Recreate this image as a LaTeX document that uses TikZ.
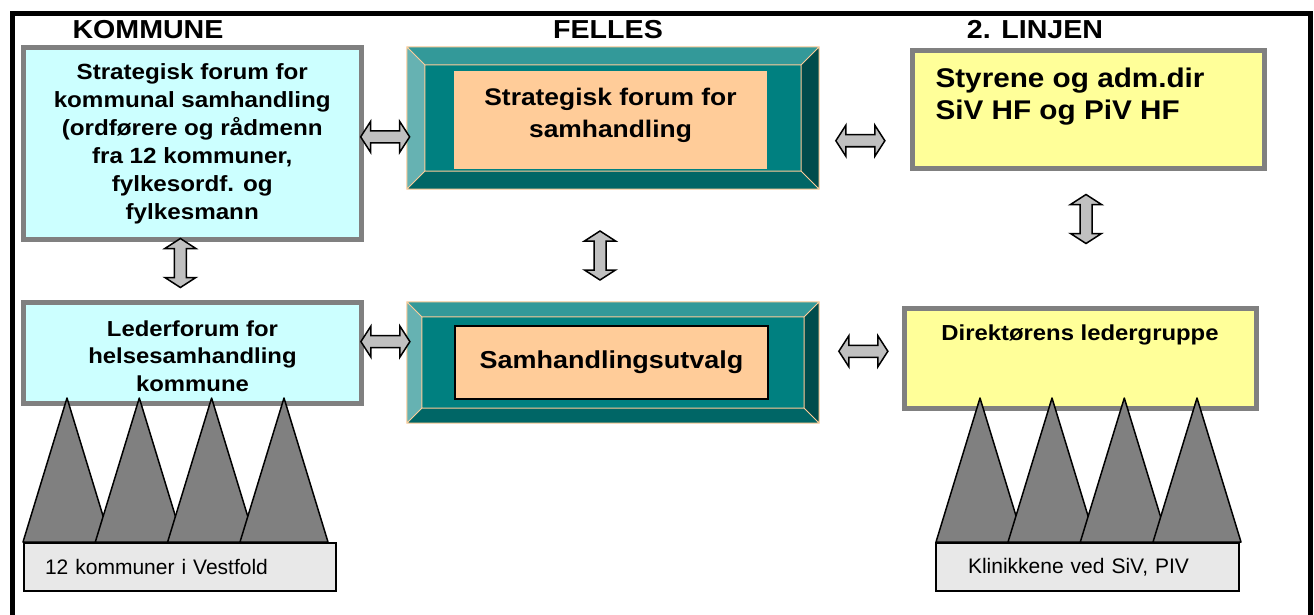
\documentclass[tikz,border=0pt]{standalone}
\usepackage{fontspec}
\setmainfont{Liberation Sans}[BoldFeatures={FakeStretch=1.1}]
\usetikzlibrary{positioning,calc}

\definecolor{boxgray}{HTML}{808080}
\definecolor{kcyan}{HTML}{CCFFFF}
\definecolor{lyellow}{HTML}{FFFF99}
\definecolor{peach}{HTML}{FFCC99}
\definecolor{teal0}{HTML}{008080}
\definecolor{bvtop}{HTML}{339999}
\definecolor{bvleft}{HTML}{66B2B2}
\definecolor{bvbot}{HTML}{006666}
\definecolor{bvright}{HTML}{004C4C}
\definecolor{agray}{HTML}{C0C0C0}
\definecolor{lgray}{HTML}{E8E8E8}

% bevelled frame round a node: #1 node, #2 inset
\newcommand{\bevel}[2]{%
  \fill[bvtop] (#1.north west) -- (#1.north east) -- ([xshift=-#2pt,yshift=-#2pt]#1.north east) -- ([xshift=#2pt,yshift=-#2pt]#1.north west) -- cycle;
  \fill[bvbot] (#1.south west) -- (#1.south east) -- ([xshift=-#2pt,yshift=#2pt]#1.south east) -- ([xshift=#2pt,yshift=#2pt]#1.south west) -- cycle;
  \fill[bvleft] (#1.north west) -- (#1.south west) -- ([xshift=#2pt,yshift=#2pt]#1.south west) -- ([xshift=#2pt,yshift=-#2pt]#1.north west) -- cycle;
  \fill[bvright] (#1.north east) -- (#1.south east) -- ([xshift=-#2pt,yshift=#2pt]#1.south east) -- ([xshift=-#2pt,yshift=-#2pt]#1.north east) -- cycle;
  \draw[peach,line width=1pt] (#1.north west) rectangle (#1.south east)
    ([xshift=#2pt,yshift=-#2pt]#1.north west) rectangle ([xshift=-#2pt,yshift=#2pt]#1.south east)
    (#1.north west) -- ++(#2,#2) (#1.north east) -- ++(-#2,#2)
    (#1.south west) -- ++(#2,-#2) (#1.south east) -- ++(-#2,-#2);
}

\tikzset{dbl/.pic={
  \draw[draw=black,line width=1.5pt,fill=agray,line join=miter]
    (-24.5,0) -- (-14.5,-15.5) -- (-14.5,-6) -- (14.5,-6) -- (14.5,-15.5) -- (24.5,0)
    -- (14.5,15.5) -- (14.5,6) -- (-14.5,6) -- (-14.5,15.5) -- cycle;}}

\begin{document}
\begin{tikzpicture}[x=1pt,y=-1pt,
  box/.style={draw=boxgray,line width=5pt,inner sep=0pt,align=center,
    font=\bfseries\fontsize{22}{28}\selectfont},
  kbox/.style={box,fill=kcyan},
  lbox/.style={box,fill=lyellow},
  face/.style={fill=teal0,inner sep=0pt},
  core/.style={fill=peach,inner sep=0pt},
  tri/.style={draw=black,line width=1.5pt,fill=boxgray,line join=round},
  base/.style={draw=black,line width=2pt,fill=lgray,inner sep=0pt,align=left,
    minimum height=48pt,font=\fontsize{21}{25}\selectfont},
  head/.style={font=\bfseries\fontsize{26}{30}\selectfont}]

  \useasboundingbox (0,0) rectangle (1314,615);
  \draw[line width=5pt] (12.5,615) -- (12.5,13.5) -- (1310.5,13.5) -- (1310.5,615);

  \node[head] (h1) at (148,30) {KOMMUNE};
  \node[head] (h2) at (608,30) {FELLES};
  \node[head] (h3) at (1035,30) {2. LINJEN};

  \node[kbox,minimum width=337.5pt,minimum height=191.5pt] (k1) at (192.25,143.75)
    {Strategisk forum for\\kommunal samhandling\\(ordførere og rådmenn\\fra 12 kommuner,\\fylkesordf. og\\fylkesmann};
  \node[kbox,minimum width=338pt,minimum height=100.5pt] (k2) at (192.5,352.75) {};
  \node[font=\bfseries\fontsize{21.7}{27.5}\selectfont,align=center] at (192.5,356)
    {Lederforum for\\helsesamhandling\\kommune};

  \node[face,minimum width=412pt,minimum height=142pt] (f1) at (613,118) {};
  \bevel{f1}{18}
  \node[core,minimum width=313pt,minimum height=98pt] (f1c) at (610.5,120) {};
  \node[font=\bfseries\fontsize{24}{32}\selectfont,align=center] at (610.5,115) {Strategisk forum for\\samhandling};

  \node[face,minimum width=412pt,minimum height=121pt] (f2) at (613,362.5) {};
  \bevel{f2}{15}
  \node[core,draw=black,line width=1.5pt,minimum width=313pt,minimum height=73pt,
    font=\bfseries\fontsize{24.5}{30}\selectfont] (f2c) at (611.5,362.5) {Samhandlingsutvalg};

  \node[lbox,minimum width=352pt,minimum height=117pt] (l1) at (1088,109.5) {};
  \node[anchor=north west,align=left,font=\bfseries\fontsize{27}{32}\selectfont] at (932,64)
    {Styrene og adm.dir\\SiV HF og PiV HF};
  \node[lbox,minimum width=352pt,minimum height=100pt] (l2) at (1080,358) {};
  \node[font=\bfseries\fontsize{21.7}{28}\selectfont] at (1080,335) {Direktørens ledergruppe};

  \foreach \x in {67,139.3,211.6,284}
    \draw[tri] (\x-44,542) -- (\x,398) -- (\x+44,542) -- cycle;
  \foreach \x in {980,1052,1124.3,1197}
    \draw[tri] (\x-44,542) -- (\x,398) -- (\x+44,542) -- cycle;

  \node[base,minimum width=312pt,text width=270pt] (b1) at (180,567) {12 kommuner i Vestfold};
  \node[base,minimum width=303pt,text width=239pt] (b2) at (1087.5,567) {Klinikkene ved SiV, PIV};

  % block arrows between the boxes
  \pic[yshift=-6pt] at ($(k1.east)!.5!(f1.west)$) {dbl};
  \pic[xshift=-4pt,yshift=-27pt] at ($(f1.east)!.5!(l1.west)$) {dbl};
  \pic[yshift=16pt] at ($(k2.east)!.5!(f2.west)$) {dbl};
  \pic[xshift=3pt,yshift=9pt] at ($(f2.east)!.5!(l2.west)$) {dbl};
  \pic[rotate=90,xshift=8pt,yshift=12pt] at ($(k1.south)!.5!(k2.north)$) {dbl};
  \pic[rotate=90,xshift=-10pt,yshift=13pt] at ($(f1.south)!.5!(f2.north)$) {dbl};
  \pic[rotate=90,xshift=19pt,yshift=-2pt] at ($(l1.south)!.5!(l2.north)$) {dbl};

\end{tikzpicture}
\end{document}
